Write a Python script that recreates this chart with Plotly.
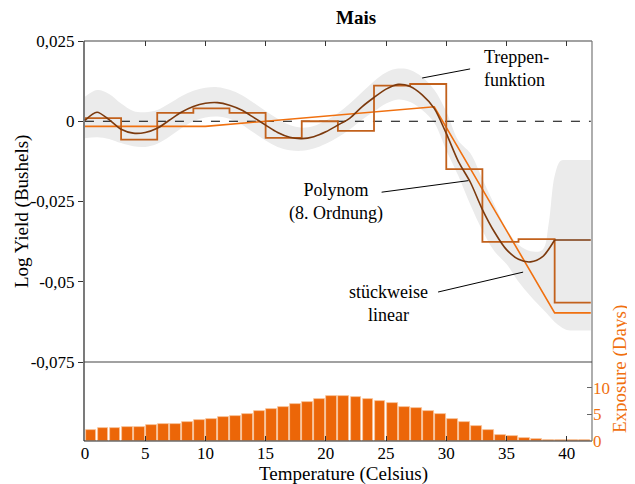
import plotly.graph_objects as go

# ---------------- data ----------------
temp = list(range(0, 40))
poly = [0.0003, 0.0028, 0.0005, -0.0025, -0.0037, -0.0035, -0.0022, 0.0003, 0.0028, 0.0046,
        0.0056, 0.0058, 0.0050, 0.0035, 0.0012, -0.0012, -0.0035, -0.0050, -0.0054, -0.0048,
        -0.0033, -0.0012, 0.0010, 0.0045, 0.0074, 0.0100, 0.0115, 0.0108, 0.0082, 0.0040,
        -0.0038, -0.0125, -0.0190, -0.0275, -0.0345, -0.0400, -0.0430, -0.0438, -0.0422, -0.0370]
poly_flat_x = [39, 42]
poly_flat = [-0.0370, -0.0370]

band_x = [0, 1, 2, 3, 4, 5, 6, 7, 8, 9,
          10, 11, 12, 13, 14, 15, 16, 17, 18, 19,
          20, 21, 22, 23, 24, 25, 26, 27, 28, 29,
          30, 31, 32, 33, 34, 35, 36, 37, 38, 38.5,
          39, 39.5, 40, 41, 42]
band_upper = [0.0076, 0.0097, 0.0085, 0.0055, 0.0032, 0.0028, 0.0035, 0.0055, 0.0078, 0.0095,
              0.0104, 0.0106, 0.0098, 0.0082, 0.0058, 0.0032, 0.0008, -0.0012, -0.0020, -0.0015,
              0.0002, 0.0025, 0.0055, 0.0090, 0.0125, 0.0152, 0.0164, 0.0160, 0.0138, 0.0098,
              0.0030, -0.0060, -0.0100, -0.0180, -0.0260, -0.0335, -0.0385, -0.0405, -0.0400, -0.0320,
              -0.0170, -0.0123, -0.0121, -0.0121, -0.0121]
band_lower = [-0.0053, -0.0050, -0.0055, -0.0068, -0.0078, -0.0080, -0.0070, -0.0048, -0.0022, 0.0000,
              0.0012, 0.0015, 0.0008, -0.0010, -0.0035, -0.0060, -0.0080, -0.0090, -0.0092, -0.0085,
              -0.0070, -0.0050, -0.0025, 0.0005, 0.0030, 0.0055, 0.0068, 0.0060, 0.0035, -0.0005,
              -0.0090, -0.0170, -0.0260, -0.0340, -0.0405, -0.0445, -0.0500, -0.0545, -0.0585, -0.0605,
              -0.0625, -0.0640, -0.0650, -0.0652, -0.0652]

step_edges = [0, 3, 6, 9, 12, 15, 18, 21, 24, 27, 30, 33, 36, 39, 42]
step_vals = [0.0010, -0.0057, 0.0026, 0.0040, 0.0026, -0.0052, 0.0000, -0.0030, 0.0111, 0.0116,
             -0.0149, -0.0376, -0.0367, -0.0565]

lin_knots = [0, 10, 29, 39, 42]
lin_vals = [-0.0016, -0.0016, 0.0045, -0.0597, -0.0597]

bar_x = [i + 0.5 for i in range(42)]
exposure = [2.1, 2.45, 2.45, 2.6, 2.6, 3.0, 3.3, 3.3, 3.6, 4.0,
            4.15, 4.5, 4.8, 5.1, 5.7, 6.0, 6.4, 7.0, 7.4, 7.9,
            8.5, 8.5, 8.3, 7.9, 7.5, 7.2, 6.5, 6.2, 5.7, 5.1,
            4.15, 3.6, 2.8, 2.0, 1.2, 0.9, 0.5, 0.45, 0.2, 0.15,
            0.1, 0.1]

x_ticks = [0, 5, 10, 15, 20, 25, 30, 35, 40]
y_tickvals = [0.025, 0, -0.025, -0.05, -0.075]
y_ticktext = ["0,025", "0", "-0,025", "-0,05", "-0,075"]
exp_ticks = [0, 5, 10]

# ---------------- styles ----------------
FONT = "Liberation Serif"
C_POLY = "#7c3a0e"
C_STEP = "#c2611c"
C_LIN = "#f0700f"
C_BAR = "#ec6608"
C_BAND = "#ebebeb"

# page body adds an 8px offset; design in screen pixels, convert to figure pixels
OFF = 8
L, T, R_, B_ = 84, 41, 592, 441          # plot area in screen pixels
W_fig, H_fig = 635 - OFF, 484 - OFF
PW, PH = R_ - L, B_ - T

def px(xs):
    return (xs - L) / PW

def py(ys):
    return (B_ - ys) / PH

step_x, step_y = [], []
for i, v in enumerate(step_vals):
    step_x += [step_edges[i], step_edges[i + 1]]
    step_y += [v, v]

fig = go.Figure()
fig.add_trace(go.Scatter(x=band_x, y=band_lower, mode="lines", line=dict(width=0, shape="spline"),
                         hoverinfo="skip", showlegend=False))
fig.add_trace(go.Scatter(x=band_x, y=band_upper, mode="lines", line=dict(width=0, shape="spline"),
                         fill="tonexty", fillcolor=C_BAND, hoverinfo="skip", showlegend=False))
fig.add_trace(go.Scatter(x=[0, 42], y=[0, 0], mode="lines",
                         line=dict(color="black", width=1, dash="dash"), showlegend=False))
fig.add_trace(go.Scatter(x=lin_knots, y=lin_vals, mode="lines",
                         line=dict(color=C_LIN, width=1.6), showlegend=False))
fig.add_trace(go.Scatter(x=step_x, y=step_y, mode="lines",
                         line=dict(color=C_STEP, width=1.8), showlegend=False))
fig.add_trace(go.Scatter(x=temp, y=poly, mode="lines",
                         line=dict(color=C_POLY, width=1.6, shape="spline", smoothing=0.8), showlegend=False))
fig.add_trace(go.Scatter(x=poly_flat_x, y=poly_flat, mode="lines",
                         line=dict(color=C_POLY, width=1.6), showlegend=False))
fig.add_trace(go.Bar(x=bar_x, y=exposure, width=0.9,
                     marker=dict(color=C_BAR, line=dict(color="#f7c49c", width=0.8)),
                     xaxis="x", yaxis="y2", showlegend=False))
# invisible trace for the top tick axis
fig.add_trace(go.Scatter(x=[0], y=[0], xaxis="x2", yaxis="y", mode="markers",
                         marker=dict(opacity=0), hoverinfo="skip", showlegend=False))

split = (B_ - 362) / PH
fig.update_layout(
    width=W_fig, height=H_fig,
    margin=dict(l=L - OFF, r=W_fig - (R_ - OFF), t=T - OFF, b=H_fig - (B_ - OFF), autoexpand=False),
    paper_bgcolor="white", plot_bgcolor="white",
    font=dict(family=FONT, size=17, color="black"),
    bargap=0,
    xaxis=dict(range=[-0.08, 42.1], anchor="y2", tickvals=x_ticks, ticks="inside", ticklen=5,
               tickcolor="#333", showgrid=False, zeroline=False, showline=False,
               tickfont=dict(size=17)),
    xaxis2=dict(range=[-0.08, 42.1], anchor="y", overlaying="x", side="top", tickvals=x_ticks,
                ticks="inside", ticklen=5, tickcolor="#333", showticklabels=False,
                showgrid=False, zeroline=False, showline=False),
    yaxis=dict(domain=[split, 1], range=[-0.075, 0.025], tickvals=y_tickvals, ticktext=y_ticktext,
               ticks="outside", ticklen=5, tickcolor="#333", showgrid=False, zeroline=False,
               showline=False, tickfont=dict(size=17)),
    yaxis2=dict(domain=[0, split], range=[0, 14.9], side="right", anchor="x", tickvals=exp_ticks,
                ticks="inside", ticklen=5, tickcolor="#666", showgrid=False, zeroline=False,
                showline=False, tickfont=dict(size=17, color=C_LIN)),
    shapes=[
        dict(type="line", xref="paper", yref="paper", x0=0, x1=0, y0=0, y1=1, line=dict(color="#222", width=1.2)),
        dict(type="line", xref="paper", yref="paper", x0=0, x1=1, y0=0, y1=0, line=dict(color="#222", width=1.2)),
        dict(type="line", xref="paper", yref="paper", x0=0, x1=1, y0=1, y1=1, line=dict(color="#444", width=1.2)),
        dict(type="line", xref="paper", yref="paper", x0=1, x1=1, y0=0, y1=1, line=dict(color="#777", width=1.2)),
        dict(type="line", xref="paper", yref="paper", x0=0, x1=1, y0=split, y1=split, line=dict(color="#444", width=1.2)),
        dict(type="line", xref="x", yref="y", x0=28.0, y0=0.01347, x1=31.98, y1=0.0163, line=dict(color="black", width=1)),
        dict(type="line", xref="x", yref="y", x0=24.63, y0=-0.0221, x1=31.84, y1=-0.0185, line=dict(color="black", width=1)),
        dict(type="line", xref="x", yref="y", x0=29.32, y0=-0.0532, x1=36.38, y1=-0.0470, line=dict(color="black", width=1)),
    ],
    annotations=[
        dict(text="<b>Mais</b>", xref="paper", yref="paper", x=px(356), y=py(18),
             showarrow=False, font=dict(size=19), xanchor="center", yanchor="middle"),
        dict(text="Treppen-<br>funktion", xref="x", yref="y", x=32.97, y=0.0163, showarrow=False,
             font=dict(size=18), xanchor="left", yanchor="middle", align="left"),
        dict(text="Polynom<br>(8. Ordnung)", xref="x", yref="y", x=20.85, y=-0.0253, showarrow=False,
             font=dict(size=18), xanchor="center", yanchor="middle", align="center"),
        dict(text="stückweise<br>linear", xref="x", yref="y", x=25.17, y=-0.0569, showarrow=False,
             font=dict(size=18), xanchor="center", yanchor="middle", align="center"),
        dict(text="Log Yield (Bushels)", xref="paper", yref="paper", x=px(22), y=py(212),
             showarrow=False, textangle=-90, font=dict(size=19), xanchor="center", yanchor="middle"),
        dict(text="Temperature (Celsius)", xref="paper", yref="paper", x=px(343), y=py(474),
             showarrow=False, font=dict(size=19), xanchor="center", yanchor="middle"),
        dict(text="Exposure (Days)", xref="paper", yref="paper", x=px(620), y=py(369),
             showarrow=False, textangle=-90, font=dict(size=19, color=C_LIN), xanchor="center", yanchor="middle"),
    ],
)

fig.write_html("out.html")
